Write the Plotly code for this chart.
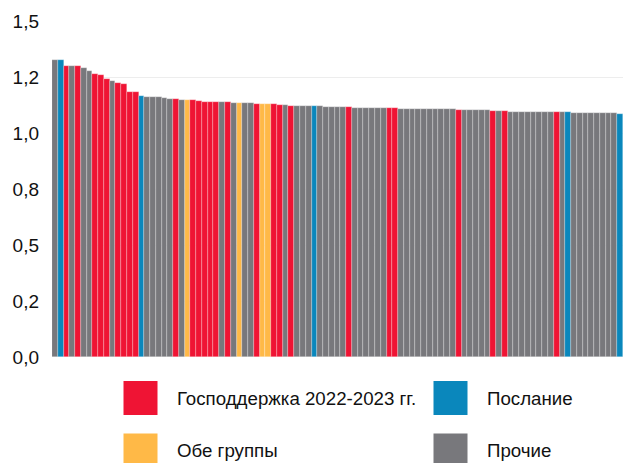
import plotly.graph_objects as go

# данные: значения столбцов (слева направо) и группа каждого столбца
values = [
    1.328, 1.328, 1.299, 1.297, 1.297, 1.292, 1.276, 1.263, 1.257, 1.242,
    1.230, 1.225, 1.221, 1.182, 1.182, 1.164, 1.161, 1.160, 1.159, 1.156,
    1.154, 1.154, 1.147, 1.147, 1.147, 1.142, 1.138, 1.138, 1.138, 1.138,
    1.138, 1.133, 1.133, 1.132, 1.132, 1.129, 1.129, 1.129, 1.129, 1.126,
    1.126, 1.121, 1.121, 1.119, 1.119, 1.119, 1.119, 1.115, 1.115, 1.115,
    1.115, 1.115, 1.112, 1.112, 1.112, 1.112, 1.112, 1.112, 1.110, 1.110,
    1.108, 1.108, 1.108, 1.108, 1.108, 1.106, 1.106, 1.106, 1.106, 1.106,
    1.102, 1.102, 1.102, 1.102, 1.102, 1.102, 1.099, 1.099, 1.099, 1.096,
    1.096, 1.096, 1.096, 1.096, 1.096, 1.096, 1.096, 1.096, 1.093, 1.093,
    1.090, 1.090, 1.090, 1.090, 1.090, 1.090, 1.090, 1.090, 1.086,
]

groups = (
    'PBRPRPPRRRPRRRRBPPPPPRPYRRRRRPRPYPPRYYRRPRPPPBPPPPPR'
    + 'PPPPPP' + 'RR' + 'P' * 10 + 'R' + 'P' * 5 + 'RPR' + 'P' * 8 + 'RPB'
    + 'P' * 8 + 'B'
)

tick_vals = [0, 0.25, 0.5, 0.75, 1.0, 1.25, 1.5]
tick_text = ['0,0', '0,2', '0,5', '0,8', '1,0', '1,2', '1,5']

legend_items = [
    ('R', 'Господдержка 2022-2023 гг.'),
    ('B', 'Послание'),
    ('Y', 'Обе группы'),
    ('P', 'Прочие'),
]

COLORS = {
    'R': '#EF1434',
    'B': '#0A87BC',
    'Y': '#FFB947',
    'P': '#78787C',
}

W, H = 623, 463
L, R, T, B = 52, 0, 21, 106


def px_x(x):
    return (x - L) / (W - L - R)


def px_y(y):
    return (H - B - y) / (H - T - B)


fig = go.Figure()
fig.add_trace(go.Bar(
    x=list(range(len(values))),
    y=values,
    marker=dict(color=[COLORS[g] for g in groups],
                line=dict(color='rgba(255,255,255,0.5)', width=0.5)),
    showlegend=False,
    hoverinfo='y',
))

# легенда 2x2 из квадратов и подписей
legend_pos = [(123.5, 381, 174.5, 398), (433.5, 381, 484.5, 398),
              (123.5, 433.5, 174.5, 451), (433.5, 433.5, 484.5, 451)]
for (key, label), (sx, sy, tx, ty) in zip(legend_items, legend_pos):
    fig.add_shape(type='rect', xref='paper', yref='paper',
                  x0=px_x(sx), x1=px_x(sx + 34), y0=px_y(sy), y1=px_y(sy + 34),
                  fillcolor=COLORS[key], line=dict(width=0), layer='above')
    fig.add_annotation(x=px_x(tx), y=px_y(ty), xref='paper', yref='paper',
                       text=label, showarrow=False, xanchor='left', yanchor='middle',
                       font=dict(size=18.7, color='#111111', family='Liberation Sans, Arial'))

fig.update_layout(
    width=W, height=H,
    margin=dict(l=L, r=R, t=T, b=B),
    plot_bgcolor='white',
    paper_bgcolor='white',
    bargap=0,
    font=dict(family='Liberation Sans, Arial', color='#111111'),
)
fig.update_xaxes(range=[-0.5, len(values) - 0.5], showticklabels=False,
                 showgrid=False, zeroline=False, showline=False, ticks='')
fig.update_yaxes(range=[0, 1.5], tickvals=tick_vals, ticktext=tick_text,
                 tickfont=dict(size=19, color='#111111'),
                 showgrid=True, gridcolor='#EDEDED', gridwidth=1,
                 zeroline=False, showline=False, ticks='', ticklabelstandoff=12)

# убрать отступы страницы, чтобы график стоял в углу окна
fig.write_html('out.html', config={'displayModeBar': False},
               post_script="document.body.style.margin='0px';")
